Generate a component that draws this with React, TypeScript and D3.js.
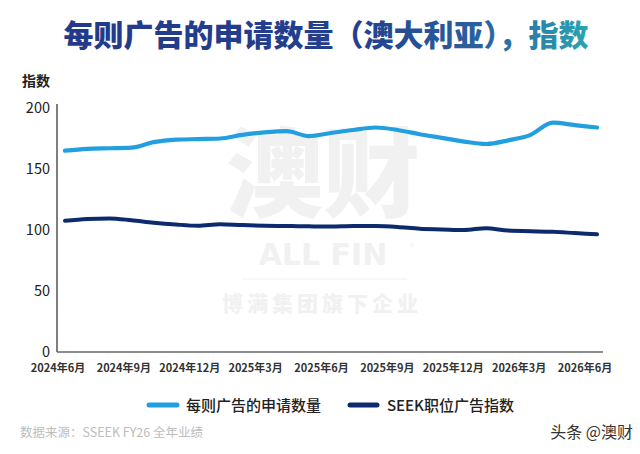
import React from "react";
import * as d3 from "d3";

const months: string[] = [
  "2024-06","2024-07","2024-08","2024-09","2024-10","2024-11","2024-12",
  "2025-01","2025-02","2025-03","2025-04","2025-05","2025-06","2025-07",
  "2025-08","2025-09","2025-10","2025-11","2025-12","2026-01","2026-02",
  "2026-03","2026-04","2026-05","2026-06",
];
const appsPerAd: number[] = [
  165, 166.5, 167, 167.5, 172, 174, 174.5, 175, 178, 180, 181, 177, 179.5,
  182, 184, 182, 178.5, 175.5, 172.5, 170.5, 173.5, 178, 188, 186, 184,
];
const seekIndex: number[] = [
  107.5, 109, 109.5, 108, 106, 104.5, 103.5, 104.8, 104, 103.5, 103.3, 103,
  102.8, 103.2, 103.2, 102.5, 101, 100.5, 100, 101.5, 99.5, 99, 98.5, 97.5, 96.5,
];
const xTickLabels: string[] = [
  "2024年6月","2024年9月","2024年12月","2025年3月","2025年6月",
  "2025年9月","2025年12月","2026年3月","2026年6月",
];
const yTicks: number[] = [0, 50, 100, 150, 200];
const seriesNames: string[] = ["每则广告的申请数量", "SEEK职位广告指数"];

const LIGHT = "#239fe0";
const DARK = "#0c2a6e";
const FONT = "'Noto Sans CJK SC', 'Noto Sans', sans-serif";

export default function App() {
  const x = d3.scaleLinear().domain([0, months.length - 1]).range([65, 597]);
  const xLab = d3.scaleLinear().domain([0, xTickLabels.length - 1]).range([58, 585]);
  const y = d3.scaleLinear().domain([0, 200]).range([352, 108]);
  const line = d3
    .line<number>()
    .x((_, i) => x(i))
    .y((d) => y(d))
    .curve(d3.curveMonotoneX);

  return (
    <svg
      width={640}
      height={454}
      style={{ position: "absolute", left: 0, top: 0, background: "#fff" }}
      fontFamily={FONT}
    >
      <defs>
        <linearGradient id="tg" x1="66" x2="587" y1="0" y2="0" gradientUnits="userSpaceOnUse">
          <stop offset="0" stopColor="#233a8a" />
          <stop offset="0.55" stopColor="#233f8e" />
          <stop offset="0.8" stopColor="#2a62a0" />
          <stop offset="1" stopColor="#2aa3b3" />
        </linearGradient>
      </defs>
      <rect width={640} height={454} fill="#fff" />

      {/* title */}
      <text x={326} y={46} textAnchor="middle" fontSize={30} fontWeight={900} fill="url(#tg)">
        每则广告的申请数量（澳大利亚），指数
      </text>

      {/* watermark */}
      <g fill="#f1f1f1" fontWeight={900}>
        <text x={323} y={209} textAnchor="middle" fontSize={97}>澳财</text>
        <text x={323} y={265} textAnchor="middle" fontSize={30} fontFamily="'DejaVu Sans', sans-serif" fontWeight={700}>ALL FIN</text>
        <text x={412} y={251} textAnchor="middle" fontSize={10} fontWeight={400}>®</text>
        <line x1={242} x2={407} y1={279} y2={279} stroke="#f1f1f1" strokeWidth={1.2} />
        <text x={322} y={311} textAnchor="middle" fontSize={21} letterSpacing={4}>博满集团旗下企业</text>
      </g>

      {/* y axis title */}
      <text x={22} y={86} fontSize={14} fontWeight={700} fill="#222">指数</text>

      {/* y ticks */}
      {yTicks.map((t) => (
        <text key={t} x={50} y={y(t) + 5} textAnchor="end" fontSize={14.5} fill="#222">
          {t}
        </text>
      ))}

      {/* axes */}
      <line x1={57} x2={57} y1={104} y2={352} stroke="#555" strokeWidth={1.5} />
      <line x1={57} x2={603} y1={352} y2={352} stroke="#666" strokeWidth={1.5} />

      {/* x labels */}
      {xTickLabels.map((l, i) => (
        <text key={l} x={xLab(i)} y={372} textAnchor="middle" fontSize={11} fontWeight={600} fill="#333">
          {l}
        </text>
      ))}

      {/* lines */}
      <path d={line(appsPerAd) || ""} fill="none" stroke={LIGHT} strokeWidth={4.2} strokeLinecap="round" />
      <path d={line(seekIndex) || ""} fill="none" stroke={DARK} strokeWidth={4} strokeLinecap="round" />

      {/* legend */}
      <line x1={149} x2={177} y1={405} y2={405} stroke={LIGHT} strokeWidth={5} strokeLinecap="round" />
      <text x={186} y={410.5} fontSize={15} fontWeight={500} fill="#222">{seriesNames[0]}</text>
      <line x1={350} x2={377} y1={405} y2={405} stroke={DARK} strokeWidth={5} strokeLinecap="round" />
      <text x={387} y={410.5} fontSize={15} fontWeight={500} fill="#222">{seriesNames[1]}</text>

      {/* footer */}
      <text x={20} y={437} fontSize={12.5} fill="#bdbdbd">数据来源：SSEEK FY26 全年业绩</text>
      <text x={633} y={438} textAnchor="end" fontSize={16} fill="#333">头条 @澳财</text>
    </svg>
  );
}
